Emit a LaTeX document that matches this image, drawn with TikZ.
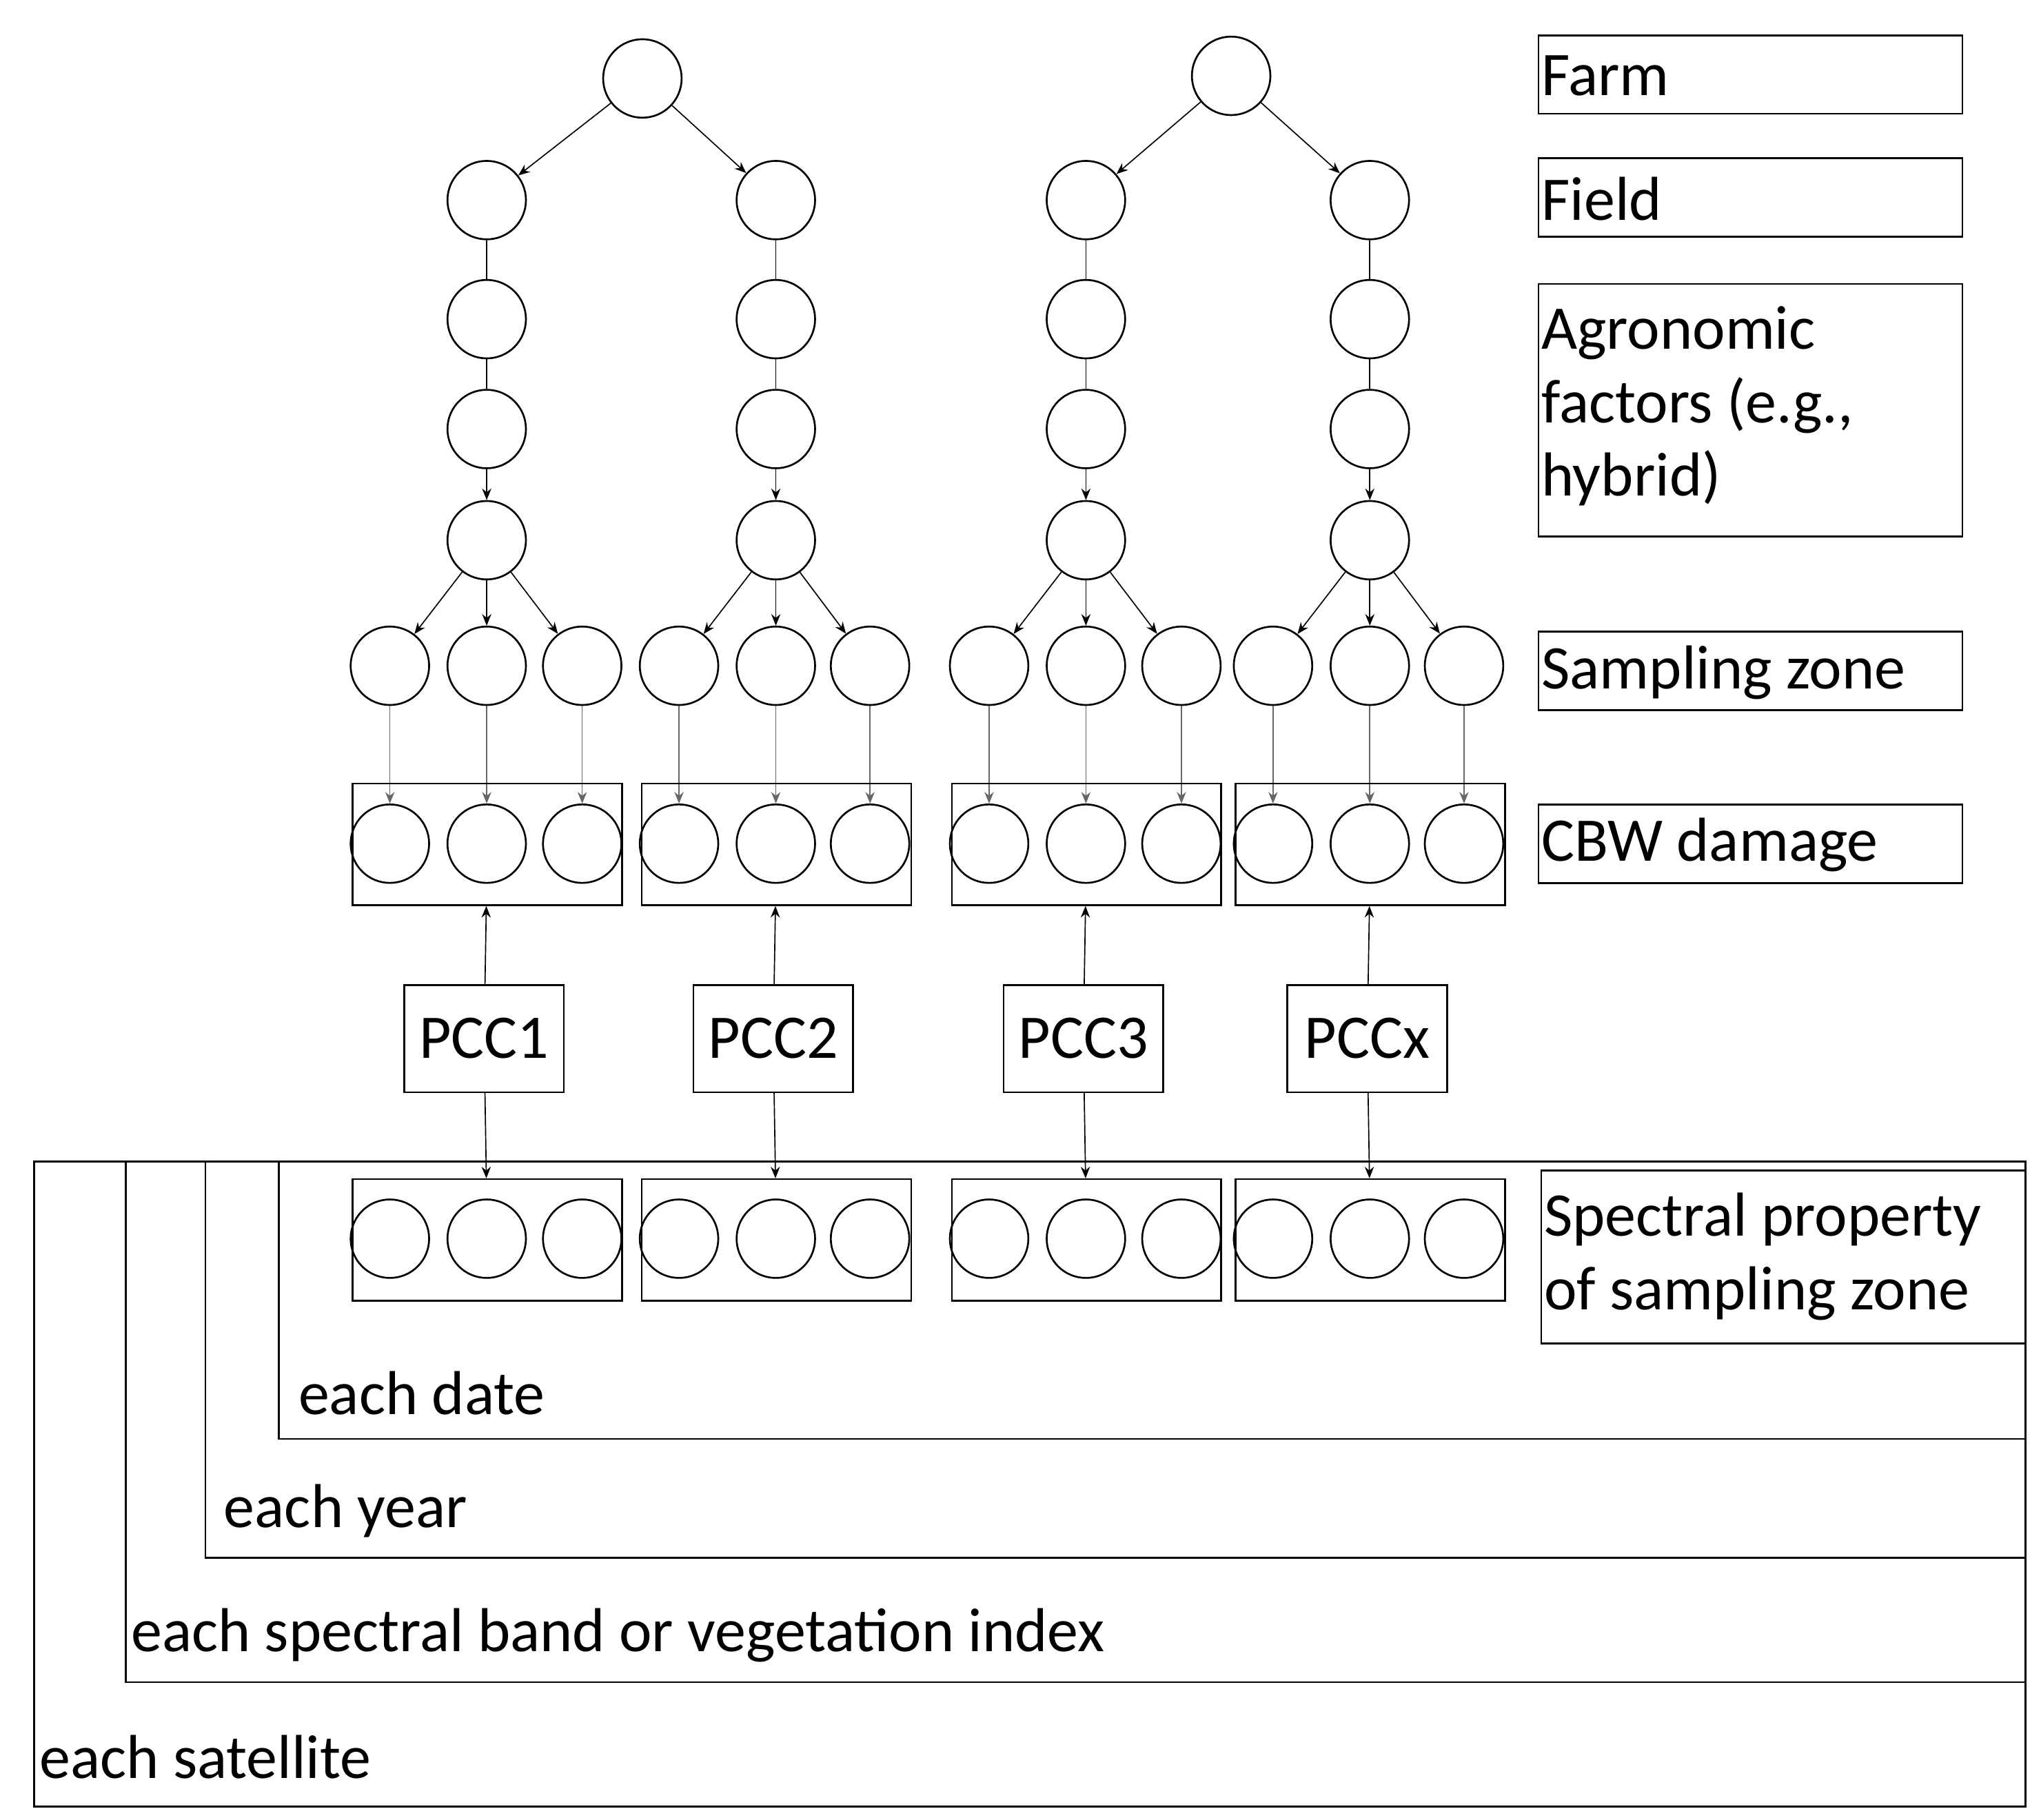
\documentclass[tikz,border=0pt]{standalone}
\usepackage{fontspec}
\setmainfont{Carlito}
\usetikzlibrary{arrows.meta}
\begin{document}
\begin{tikzpicture}[x=0.02cm,y=-0.02cm,
  c/.style={circle,draw,line width=0.8pt,minimum size=1.2cm,inner sep=0pt},
  box/.style={draw,line width=0.8pt},
  lbl/.style={font=\fontsize{27}{32}\selectfont,anchor=west,align=left},
  ar/.style={-{Stealth[length=5pt,width=4pt]},line width=0.5pt},
  ln/.style={line width=0.5pt}]
\useasboundingbox (0,0) rectangle (1560,1391);
% nested frames
\draw[box] (26,888) rectangle (1548,1381);
\draw[box] (96,888) rectangle (1548,1286);
\draw[box] (157,888) rectangle (1548,1191);
\draw[box] (213,888) rectangle (1548,1100);
\node[lbl] (tdate) at (222,1065) {each date};
\node[lbl] (tyear) at (165,1155) {each year};
\node[lbl] (tband) at (94,1250) {each spectral band or vegetation index};
\node[lbl] (tsat) at (24,1343) {each satellite};
% legend
\draw[box] (1176,27) rectangle (1500,87); \node[lbl] (lf) at (1172,58) {Farm};
\draw[box] (1176,121) rectangle (1500,181); \node[lbl] (lfi) at (1172,152) {Field};
\draw[box] (1176,217) rectangle (1500,410); \node[lbl,anchor=north west] (la) at (1172,228) {Agronomic\\factors (e.g.,\\hybrid)};
\draw[box] (1176,483) rectangle (1500,543); \node[lbl] (ls) at (1172,514) {Sampling zone};
\draw[box] (1176,615) rectangle (1500,675); \node[lbl] (lc) at (1172,646) {CBW damage};
\draw[box] (1178,895) rectangle (1548,1027); \node[lbl,anchor=north west] (lsp) at (1174,906) {Spectral property\\of sampling zone};
% farms
\node[c] (F1) at (491,60) {};
\node[c] (F2) at (941,58) {};
\foreach \t/\x/\f/\p/\a/\b/\cc in {A/372/F1/PCC1/298/372/445, B/593/F1/PCC2/519/593/665, C/830/F2/PCC3/756/830/903, D/1047/F2/PCCx/973/1047/1119}{
  \node[c] (\t1) at (\x,153) {};
  \node[c] (\t2) at (\x,244) {};
  \node[c] (\t3) at (\x,328) {};
  \node[c] (\t4) at (\x,413) {};
  \draw[ar] (\f) -- (\t1);
  \draw[ln] (\t1) -- (\t2);
  \draw[ln] (\t2) -- (\t3);
  \draw[ar] (\t3) -- (\t4);
  \foreach \i/\xx in {1/\a,2/\b,3/\cc}{
    \node[c] (\t s\i) at (\xx,509) {};
    \node[c] (\t d\i) at (\xx,645) {};
    \node[c] (\t p\i) at (\xx,947) {};
    \draw[ar] (\t4) -- (\t s\i);
    \draw[ar,black!60] (\t s\i) -- (\t d\i);
  }
  \node[box,minimum width=4.12cm,minimum height=1.86cm] (\t D) at (\b+0.5,645.5) {};
  \node[box,minimum width=4.12cm,minimum height=1.86cm] (\t P) at (\b+0.5,948) {};
  \node[box,minimum width=2.44cm,minimum height=1.64cm,font=\fontsize{27}{32}\selectfont] (\t C) at (\x-2,794) {\p};
  \draw[ar] (\t C) -- (\t D);
  \draw[ar] (\t C) -- (\t P);
}
\end{tikzpicture}
\end{document}
